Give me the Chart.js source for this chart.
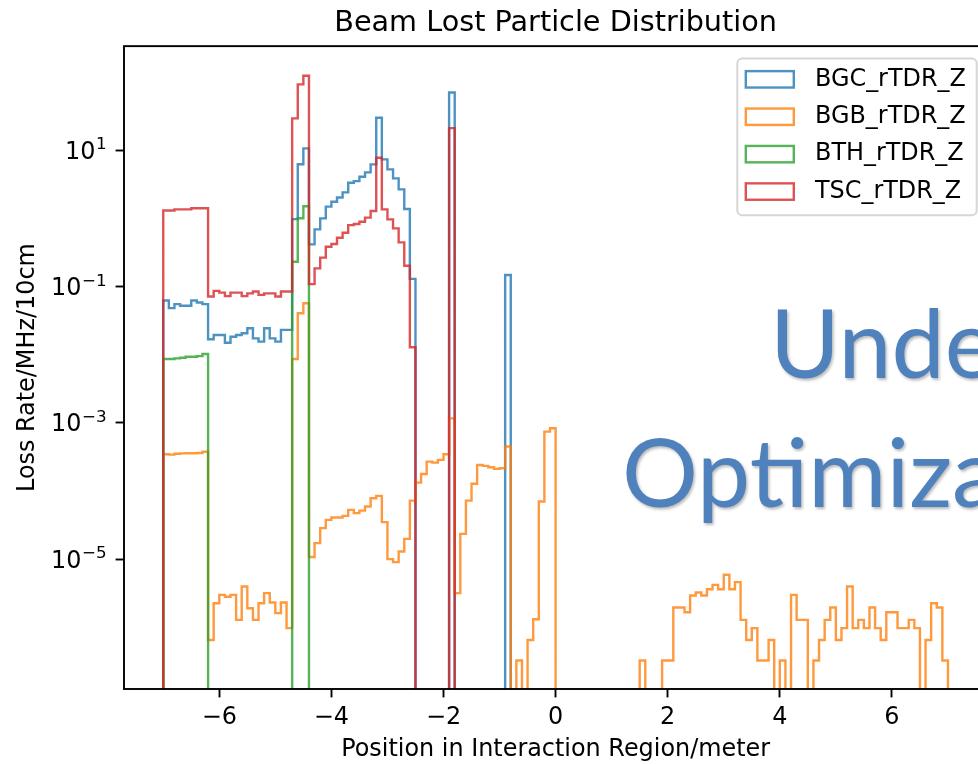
<!DOCTYPE html>
<html>
<head>
<meta charset="utf-8">
<script src="https://cdn.jsdelivr.net/npm/chart.js@4.4.1/dist/chart.umd.min.js"></script>
<style>
  html, body { margin: 0; padding: 0; background: #fff; overflow: hidden; }
  #wrap { position: relative; width: 1000px; height: 764px; }
</style>
</head>
<body>
<div id="wrap"><canvas id="chart"></canvas></div>
<script>
// histogram bins: 10 cm wide, from -7 m to +7 m
const BIN_START = -7;
const BIN_WIDTH = 0.1;

const SERIES_NAMES  = ['BGC_rTDR_Z', 'BGB_rTDR_Z', 'BTH_rTDR_Z', 'TSC_rTDR_Z'];
const SERIES_COLORS = ['rgba(31,119,180,0.8)', 'rgba(255,127,14,0.8)', 'rgba(44,160,44,0.8)', 'rgba(214,39,40,0.8)'];

const BGC = [
  0.062, 0.048, 0.055, 0.052, 0.052, 0.062, 0.058, 0.055, 0.0168, 0.0194,
  0.0194, 0.0149, 0.0183, 0.0194, 0.0205, 0.0243, 0.0173, 0.0155, 0.0243, 0.0173,
  0.0155, 0.023, 0.023, 0.97, 6.2, 10.6, 0.414, 0.687, 0.997, 1.48,
  1.75, 2.02, 2.40, 3.32, 3.51, 4.06, 4.71, 6.17, 29.8, 7.3,
  5.21, 3.85, 2.65, 1.37, 0.129, 0, 0, 0, 0, 0,
  0, 70, 0, 0, 0, 0, 0, 0, 0, 0,
  0, 0.147, 0, 0, 0, 0, 0, 0, 0, 0,
  0, 0, 0, 0, 0, 0, 0, 0, 0, 0,
  0, 0, 0, 0, 0, 0, 0, 0, 0, 0,
  0, 0, 0, 0, 0, 0, 0, 0, 0, 0,
  0, 0, 0, 0, 0, 0, 0, 0, 0, 0,
  0, 0, 0, 0, 0, 0, 0, 0, 0, 0,
  0, 0, 0, 0, 0, 0, 0, 0, 0, 0,
  0, 0, 0, 0, 0, 0, 0, 0, 0, 0
];

const BGB = [
  3.45e-4, 3.4e-4, 3.5e-4, 3.55e-4, 3.57e-4, 3.57e-4, 3.6e-4, 3.75e-4, 6.5e-7, 2.25e-6,
  2.98e-6, 2.8e-6, 2.98e-6, 1.28e-6, 3.95e-6, 1.9e-6, 1.28e-6, 2.25e-6, 3.16e-6, 2.3e-6,
  1.61e-6, 2.3e-6, 9.7e-7, 0.0086, 0.0403, 0.0565, 1.07e-5, 1.71e-5, 2.84e-5, 3.76e-5,
  4.07e-5, 4.07e-5, 4.3e-5, 5.26e-5, 4.71e-5, 5.14e-5, 5.89e-5, 7.8e-5, 8.45e-5, 3.48e-5,
  9.97e-6, 9.0e-6, 1.29e-5, 1.98e-5, 7.2e-5, 1.32e-4, 1.77e-4, 2.69e-4, 2.6e-4, 2.85e-4,
  3.45e-4, 1.16e-3, 3.16e-6, 2.34e-5, 7.2e-5, 1.27e-4, 2.4e-4, 2.33e-4, 2.22e-4, 2.1e-4,
  2.15e-4, 4.47e-4, 0, 3.25e-7, 0, 6.5e-7, 1.31e-6, 7e-5, 7.4e-4, 8.3e-4,
  0, 0, 0, 0, 0, 0, 0, 0, 0, 0,
  0, 0, 0, 0, 0, 3.25e-7, 0, 0, 0, 3.25e-7,
  3.25e-7, 1.95e-6, 1.95e-6, 1.66e-6, 2.92e-6, 3.23e-6, 2.92e-6, 3.61e-6, 4.18e-6, 3.61e-6,
  5.87e-6, 3.61e-6, 4.58e-6, 1.28e-6, 6.5e-7, 9.7e-7, 3.25e-7, 3.25e-7, 6.5e-7, 0,
  3.25e-7, 0, 2.98e-6, 1.28e-6, 1.28e-6, 0, 3.25e-7, 6.5e-7, 1.28e-6, 1.95e-6,
  6.5e-7, 9.7e-7, 3.95e-6, 9.7e-7, 1.28e-6, 9.7e-7, 1.95e-6, 9.7e-7, 6.5e-7, 1.66e-6,
  1.66e-6, 9.7e-7, 9.7e-7, 1.28e-6, 9.7e-7, 0, 6.5e-7, 2.25e-6, 1.95e-6, 3.25e-7
];

const BTH = [
  0.0086, 0.0086, 0.0088, 0.009, 0.0093, 0.0093, 0.0095, 0.0102, 0, 0,
  0, 0, 0, 0, 0, 0, 0, 0, 0, 0,
  0, 0, 0, 0.23, 1.0, 1.5, 0, 0, 0, 0,
  0, 0, 0, 0, 0, 0, 0, 0, 0, 0,
  0, 0, 0, 0, 0, 0, 0, 0, 0, 0,
  0, 0, 0, 0, 0, 0, 0, 0, 0, 0,
  0, 0, 0, 0, 0, 0, 0, 0, 0, 0,
  0, 0, 0, 0, 0, 0, 0, 0, 0, 0,
  0, 0, 0, 0, 0, 0, 0, 0, 0, 0,
  0, 0, 0, 0, 0, 0, 0, 0, 0, 0,
  0, 0, 0, 0, 0, 0, 0, 0, 0, 0,
  0, 0, 0, 0, 0, 0, 0, 0, 0, 0,
  0, 0, 0, 0, 0, 0, 0, 0, 0, 0,
  0, 0, 0, 0, 0, 0, 0, 0, 0, 0
];

const TSC = [
  1.3, 1.3, 1.35, 1.35, 1.35, 1.4, 1.4, 1.4, 0.071, 0.086,
  0.081, 0.072, 0.081, 0.081, 0.072, 0.079, 0.084, 0.075, 0.079, 0.079,
  0.071, 0.084, 0.084, 29.2, 92, 123, 0.108, 0.184, 0.264, 0.382,
  0.419, 0.518, 0.614, 0.794, 0.822, 0.889, 1.02, 1.28, 7.7, 1.35,
  0.964, 0.711, 0.443, 0.201, 0.0128, 0, 0, 0, 0, 0,
  0, 21, 0, 0, 0, 0, 0, 0, 0, 0,
  0, 0, 0, 0, 0, 0, 0, 0, 0, 0,
  0, 0, 0, 0, 0, 0, 0, 0, 0, 0,
  0, 0, 0, 0, 0, 0, 0, 0, 0, 0,
  0, 0, 0, 0, 0, 0, 0, 0, 0, 0,
  0, 0, 0, 0, 0, 0, 0, 0, 0, 0,
  0, 0, 0, 0, 0, 0, 0, 0, 0, 0,
  0, 0, 0, 0, 0, 0, 0, 0, 0, 0,
  0, 0, 0, 0, 0, 0, 0, 0, 0, 0
];

const X_RANGE = [-7.7, 7.7];
const Y_RANGE = [1.24e-7, 335];
const X_TICKS = [-6, -4, -2, 0, 2, 4, 6];
const Y_TICKS = [1e-5, 1e-3, 1e-1, 1e1];
const Y_TICK_EXPONENTS = ['\u22125', '\u22123', '\u22121', '1'];
const NOTE_LINES = ['Under', 'Optimization'];

const FONT = 'DejaVu Sans';
const FS = 23.9;
// empty bins sit far below the log axis so the step outline drops off the plot
const ZERO_FLOOR = 1e-12;

function stepPoints(values) {
    const pts = [{ x: BIN_START, y: ZERO_FLOOR }];
    values.forEach((v, i) => pts.push({ x: BIN_START + i * BIN_WIDTH, y: v > 0 ? v : ZERO_FLOOR }));
    pts.push({ x: BIN_START + values.length * BIN_WIDTH, y: ZERO_FLOOR });
    return pts;
}

const axesFrame = {
    id: 'axesFrame',
    afterDatasetsDraw(chart) {
        const { ctx, chartArea: a } = chart;
        ctx.save();
        ctx.strokeStyle = '#000';
        ctx.lineWidth = 1.9;
        ctx.strokeRect(a.left, a.top, a.right - a.left, a.bottom - a.top);
        ctx.restore();
    },
};

// log tick labels as 10 with a raised exponent, like mathtext
const powerLabels = {
    id: 'powerLabels',
    afterDraw(chart) {
        const { ctx, chartArea: a } = chart;
        const yScale = chart.scales.y;
        const right = a.left - 8.4 - 9;
        ctx.save();
        ctx.fillStyle = '#000';
        ctx.textAlign = 'left';
        ctx.textBaseline = 'alphabetic';
        Y_TICKS.forEach((v, i) => {
            const y = yScale.getPixelForValue(v);
            const base = y + 8.7;
            ctx.font = (FS * 0.7) + 'px "' + FONT + '"';
            const supW = ctx.measureText(Y_TICK_EXPONENTS[i]).width;
            ctx.font = FS + 'px "' + FONT + '"';
            const baseW = ctx.measureText('10').width;
            ctx.fillText('10', right - supW - baseW - 0.5, base);
            ctx.font = (FS * 0.7) + 'px "' + FONT + '"';
            ctx.fillText(Y_TICK_EXPONENTS[i], right - supW, base - 9.5);
        });
        ctx.restore();
    },
};

const boxLegend = {
    id: 'boxLegend',
    afterDraw(chart) {
        const { ctx, chartArea: a } = chart;
        const right = a.right - 10.5, top = a.top + 12.3;
        const w = 239.4, h = 156.7, left = right - w, r = 5;
        ctx.save();
        ctx.beginPath();
        ctx.moveTo(left + r, top);
        ctx.arcTo(right, top, right, top + h, r);
        ctx.arcTo(right, top + h, left, top + h, r);
        ctx.arcTo(left, top + h, left, top, r);
        ctx.arcTo(left, top, right, top, r);
        ctx.closePath();
        ctx.fillStyle = 'rgba(255,255,255,0.8)';
        ctx.fill();
        ctx.strokeStyle = 'rgba(204,204,204,0.8)';
        ctx.lineWidth = 2;
        ctx.stroke();

        ctx.font = FS + 'px "' + FONT + '"';
        ctx.textBaseline = 'middle';
        ctx.textAlign = 'left';
        SERIES_NAMES.forEach((name, i) => {
            const cy = top + 20.9 + i * 37.4;
            ctx.strokeStyle = SERIES_COLORS[i];
            ctx.lineWidth = 2.4;
            ctx.strokeRect(left + 8.5, cy - 8.2, 48, 16.4);
            ctx.fillStyle = '#000';
            ctx.fillText(name, left + 77.7, cy);
        });
        ctx.restore();
    },
};

const overlayNote = {
    id: 'overlayNote',
    afterDraw(chart) {
        const ctx = chart.ctx;
        ctx.save();
        ctx.font = '95px Lato';
        ctx.fillStyle = '#4f81bd';
        ctx.textBaseline = 'alphabetic';
        ctx.shadowColor = 'rgba(0,0,0,0.28)';
        ctx.shadowBlur = 3;
        ctx.shadowOffsetX = 1.5;
        ctx.shadowOffsetY = 1.5;
        ctx.fillText(NOTE_LINES[0], 770, 378);
        ctx.fillText(NOTE_LINES[1], 622, 507);
        ctx.restore();
    },
};

Chart.defaults.font.family = FONT;
Chart.defaults.color = '#000';

const datasets = [BGC, BGB, BTH, TSC].map((vals, i) => ({
    label:       SERIES_NAMES[i],
    data:        stepPoints(vals),
    borderColor: SERIES_COLORS[i],
    borderWidth: 2.4,
    stepped:     'before',
    fill:        false,
    tension:     0,
    pointRadius: 0,
    borderJoinStyle: 'miter',
    order:       3 - i,
}));

new Chart(document.getElementById('chart'), {
    type: 'line',
    data: { datasets },
    plugins: [axesFrame, powerLabels, boxLegend, overlayNote],
    options: {
        responsive:          true,
        maintainAspectRatio: false,
        animation:           false,
        events:              [],
        layout: { padding: { left: 0, right: 12.8, top: 0, bottom: 0 } },
        plugins: {
            legend:  { display: false },
            tooltip: { enabled: false },
            title: {
                display:  true,
                text:     'Beam Lost Particle Distribution',
                color:    '#000',
                fullSize: false,
                font:     { family: FONT, size: 28.7, weight: 'normal' },
                padding:  { top: 6, bottom: 5.7 },
            },
        },
        scales: {
            x: {
                type:   'linear',
                bounds: 'data',
                min:    X_RANGE[0],
                max:    X_RANGE[1],
                afterBuildTicks: s => { s.ticks = X_TICKS.map(v => ({ value: v })); },
                afterFit:        s => { s.height = 75; },
                ticks: {
                    color: '#000',
                    font: { size: FS },
                    padding: 6,
                    autoSkip: false,
                    maxRotation: 0,
                    callback: v => (v < 0 ? '\u2212' + Math.abs(v) : String(v)),
                },
                grid:   { display: true, drawOnChartArea: false, drawTicks: true, tickLength: 8.4, tickWidth: 1.9, tickColor: '#000' },
                border: { display: false },
                title:  { display: true, text: 'Position in Interaction Region/meter', color: '#000', font: { size: FS }, padding: { top: 0, bottom: 0 } },
            },
            y: {
                type:   'logarithmic',
                bounds: 'data',
                min:    Y_RANGE[0],
                max:    Y_RANGE[1],
                afterBuildTicks: s => { s.ticks = Y_TICKS.map(v => ({ value: v })); },
                afterFit:        s => { s.width = 124; },
                ticks:  { display: false },
                grid:   { display: true, drawOnChartArea: false, drawTicks: true, tickLength: 8.4, tickWidth: 1.9, tickColor: '#000' },
                border: { display: false },
                title:  { display: true, text: 'Loss Rate/MHz/10cm', color: '#000', font: { size: FS }, padding: { top: 13, bottom: 0 } },
            },
        },
    },
});
</script>
</body>
</html>
